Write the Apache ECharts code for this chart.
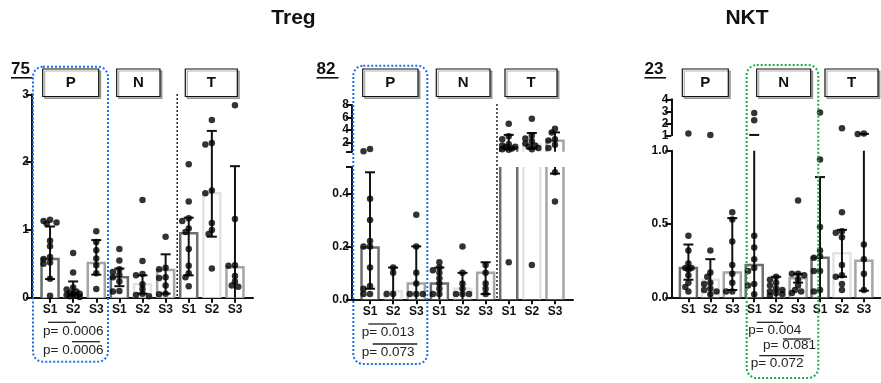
<!DOCTYPE html>
<html>
<head>
<meta charset="utf-8">
<script src="https://cdn.jsdelivr.net/npm/echarts@6/dist/echarts.min.js"></script>
<style>
html,body{margin:0;padding:0;background:#fff;}
#main{width:881px;height:383px;}
</style>
</head>
<body>
<div id="main"></div>
<script>
// categories (S1..S3 inside P / N / T)
const cats = ['S1', 'S2', 'S3', 'S1', 'S2', 'S3', 'S1', 'S2', 'S3'];
const groups = ['P', 'N', 'T'];

// panel 1 : Treg 75
const p1Mean = [0.57, 0.06, 0.51, 0.30, 0.20, 0.41, 0.95, 1.54, 0.45];
const p1Hi = [1.05, 0.24, 0.85, 0.43, 0.33, 0.64, 1.18, 2.46, 1.94];
const p1Lo = [0.275, -0.1, 0.34, 0.17, 0.06, 0.06, 0.33, 0.9, -0.5];
const p1Dots = [
  [1.15, 1.13, 1.11, 1.09, 0.84, 0.76, 0.60, 0.57, 0.52, 0.50, 0.28, 0.03],
  [0.66, 0.37, 0.15, 0.12, 0.09, 0.07, 0.06, 0.05, 0.04, 0.03, 0.02, 0.01],
  [0.98, 0.82, 0.70, 0.58, 0.48, 0.36, 0.13],
  [0.72, 0.55, 0.42, 0.38, 0.34, 0.30, 0.24, 0.10, 0.09],
  [1.44, 0.54, 0.35, 0.33, 0.20, 0.13, 0.06, 0.04, 0.02],
  [0.90, 0.44, 0.42, 0.30, 0.29, 0.18, 0.06, 0.05],
  [1.97, 1.42, 1.17, 1.13, 1.02, 0.97, 0.72, 0.47, 0.36, 0.30, 0.17],
  [2.62, 2.28, 2.26, 1.58, 1.54, 1.10, 1.00, 0.94, 0.43],
  [2.84, 1.16, 0.48, 0.47, 0.32, 0.24, 0.18, 0.16]
];

// panel 2 : Treg 82
const p2Mean = [0.196, 0.03, 0.06, 0.06, 0.04, 0.10, 1.1, 1.7, 2.25];
const p2Hi = [0.48, 0.12, 0.20, 0.12, 0.10, 0.14, 3.2, 3.5, 3.6];
const p2Lo = [0.04, -0.1, -0.1, -0.05, -0.05, 0.02, 0.9, 1.0, 0.475];
const p2Dots = [
  [0.94, 0.57, 0.38, 0.30, 0.22, 0.20, 0.20, 0.12, 0.05, 0.04, 0.02, 0.02],
  [0.12, 0.10, 0.02, 0.02],
  [0.32, 0.20, 0.10, 0.06, 0.02, 0.02, 0.02],
  [0.14, 0.12, 0.11, 0.10, 0.08, 0.06, 0.04, 0.02, 0.02],
  [0.20, 0.10, 0.06, 0.04, 0.02, 0.02, 0.02],
  [0.13, 0.10, 0.06, 0.04, 0.02],
  [5.0, 3.0, 2.5, 1.7, 1.5, 1.3, 1.2, 1.0, 0.9, 0.8, 0.14],
  [5.8, 3.1, 2.6, 2.2, 1.8, 1.5, 1.3, 1.1, 0.9, 0.13],
  [4.2, 3.6, 2.5, 2.3, 1.6, 1.1, 0.48, 0.37]
];

// panel 3 : NKT 23
const p3Mean = [0.20, 0.12, 0.17, 0.22, 0.05, 0.13, 0.27, 0.30, 0.25];
const p3Hi = [0.36, 0.26, 0.54, 1.03, 0.14, 0.16, 0.82, 0.46, 1.12];
const p3Lo = [0.12, -0.02, 0.05, -0.2, -0.02, 0.10, -0.2, 0.14, 0.045];
const p3Dots = [
  [1.15, 0.42, 0.32, 0.23, 0.20, 0.20, 0.19, 0.15, 0.10, 0.07, 0.04],
  [1.03, 0.32, 0.17, 0.14, 0.10, 0.09, 0.06, 0.05, 0.04, 0.02],
  [0.58, 0.53, 0.38, 0.22, 0.16, 0.10, 0.04, 0.04],
  [2.85, 2.25, 0.42, 0.34, 0.26, 0.20, 0.18, 0.09, 0.08, 0.02],
  [0.14, 0.12, 0.10, 0.08, 0.06, 0.05, 0.04, 0.03, 0.02, 0.01],
  [0.66, 0.16, 0.16, 0.15, 0.12, 0.08, 0.05, 0.04, 0.03],
  [2.9, 0.94, 0.48, 0.32, 0.28, 0.27, 0.18, 0.18, 0.05, 0.04],
  [1.58, 0.58, 0.45, 0.44, 0.41, 0.22, 0.15, 0.14, 0.09, 0.05],
  [1.15, 1.1, 0.36, 0.26, 0.16, 0.05]
];

// y tick values / labels
const p1Ticks = [0, 1, 2, 3];
const p2LowTicks = [0, 0.2, 0.4, 0.5], p2LowLabels = [0, 0.2, 0.4];
const p2UpTicks = [0.5, 2, 4, 6, 8], p2UpLabels = [2, 4, 6, 8];
const p3LowTicks = [0, 0.5, 1], p3UpTicks = [1, 2, 3, 4];

const pValues = [
  ['p= 0.0006', 'p= 0.0006'],
  ['p= 0.013', 'p= 0.073'],
  ['p= 0.004', 'p= 0.081', 'p= 0.072']
];

const FONT = 'Liberation Sans';
const shade = ['#6e6e6e', '#e3e3e3', '#a5a5a5'];
const GW = 221, XMIN = 0.22, XMAX = 9.78, DOT = 6.5;

const panels = [
  { left: 32, mean: p1Mean, hi: p1Hi, lo: p1Lo, dots: p1Dots,
    grids: [{ top: 94.3, height: 203.4, min: 0, max: 3, ticks: p1Ticks, labels: p1Ticks, fmt: v => String(v) }] },
  { left: 352, mean: p2Mean, hi: p2Hi, lo: p2Lo, dots: p2Dots,
    grids: [{ top: 167, height: 132.3, min: 0, max: 0.5, ticks: p2LowTicks, labels: p2LowLabels, fmt: v => v.toFixed(1) },
            { top: 105, height: 46.7, min: 0.5, max: 8, ticks: p2UpTicks, labels: p2UpLabels, fmt: v => String(v) }] },
  { left: 671.3, mean: p3Mean, hi: p3Hi, lo: p3Lo, dots: p3Dots,
    grids: [{ top: 150.7, height: 146.6, min: 0, max: 1, ticks: p3LowTicks, labels: p3LowTicks, fmt: v => v.toFixed(1) },
            { top: 99.3, height: 36, min: 1, max: 4, ticks: p3UpTicks, labels: p3UpTicks, fmt: v => String(v) }] }
];

// small beeswarm: horizontal offsets (px), dots may overlap a bit like in the original
function swarm(vals, pxPerUnit) {
  const placed = [];
  const s = DOT * 0.5;
  const cands = [0, -s, s, -2 * s, 2 * s];
  return vals.map(v => {
    const y = v * pxPerUnit;
    let best = 0, bestD = -1;
    for (const c of cands) {
      const d = placed.reduce((m, p) => Math.min(m, Math.hypot(p[0] - c, p[1] - y)), 1e9);
      if (d >= DOT * 0.7) { best = c; bestD = d; break; }
      if (d > bestD) { bestD = d; best = c; }
    }
    placed.push([best, y]);
    return best;
  });
}

const grid = [], xAxis = [], yAxis = [], series = [];
const step = GW / (XMAX - XMIN);

panels.forEach(pn => {
  pn.grids.forEach((g, gi) => {
    const idx = grid.length;
    const lower = gi === 0;
    const inGrid = v => lower ? v <= g.max : v > g.min;
    grid.push({ left: pn.left, top: g.top, width: GW, height: g.height });
    xAxis.push({
      type: 'value', gridIndex: idx, min: XMIN, max: XMAX, show: lower,
      splitLine: { show: false },
      axisLine: { lineStyle: { color: '#111', width: 2 } },
      axisTick: { customValues: [1, 2, 3, 4, 5, 6, 7, 8, 9], length: 5, lineStyle: { color: '#111', width: 2 } },
      axisLabel: { customValues: [1, 2, 3, 4, 5, 6, 7, 8, 9], formatter: v => cats[Math.round(v) - 1],
        color: '#111', fontFamily: FONT, fontWeight: 'bold', fontSize: 12, margin: 6 }
    });
    yAxis.push({
      type: 'value', gridIndex: idx, min: g.min, max: g.max,
      splitLine: { show: false },
      axisLine: { show: true, lineStyle: { color: '#111', width: 2 } },
      axisTick: { show: true, customValues: g.ticks, length: 6, lineStyle: { color: '#111', width: 2 } },
      axisLabel: { customValues: g.labels, formatter: g.fmt, color: '#111', fontFamily: FONT,
        fontWeight: 'bold', fontSize: 12, margin: 3 }
    });
    const pxPerUnit = g.height / (g.max - g.min);

    // open bars: white body, grey sides, top edge only when it lies inside this grid
    series.push({
      type: 'custom', xAxisIndex: idx, yAxisIndex: idx, z: 2,
      data: pn.mean.map((m, i) => [i + 1, m]),
      encode: { x: 0, y: 1 },
      renderItem: (params, api) => {
        const x = api.value(0), m = api.value(1);
        if (m <= g.min) return null;
        const top = Math.min(m, g.max);
        const pB = api.coord([x, g.min]), pT = api.coord([x, top]);
        const hw = 8.5;
        const col = shade[params.dataIndex % 3];
        const ch = [{ type: 'rect', shape: { x: pB[0] - hw, y: pT[1], width: hw * 2, height: pB[1] - pT[1] },
          style: { fill: '#fff' } }];
        if (m <= g.max) {
          ch.push({ type: 'polyline', style: { stroke: col, lineWidth: 2.5, fill: null },
            shape: { points: [[pB[0] - hw, pB[1]], [pB[0] - hw, pT[1]], [pB[0] + hw, pT[1]], [pB[0] + hw, pB[1]]] } });
        } else {
          ch.push({ type: 'line', shape: { x1: pB[0] - hw, y1: pB[1], x2: pB[0] - hw, y2: pT[1] }, style: { stroke: col, lineWidth: 2.5 } });
          ch.push({ type: 'line', shape: { x1: pB[0] + hw, y1: pB[1], x2: pB[0] + hw, y2: pT[1] }, style: { stroke: col, lineWidth: 2.5 } });
        }
        return { type: 'group', children: ch };
      }
    });
    // error bars
    series.push({
      type: 'custom', xAxisIndex: idx, yAxisIndex: idx, z: 3,
      data: pn.mean.map((m, i) => [i + 1, pn.lo[i], pn.hi[i]]),
      encode: { x: 0, y: [1, 2] },
      renderItem: (params, api) => {
        const x = api.value(0), lo = api.value(1), hi = api.value(2);
        const a = Math.max(lo, g.min), b = Math.min(hi, g.max);
        if (a >= b) return null;
        const p1 = api.coord([x, a]), p2 = api.coord([x, b]);
        const st = { stroke: '#111', lineWidth: 2 };
        const ch = [{ type: 'line', shape: { x1: p1[0], y1: p1[1], x2: p2[0], y2: p2[1] }, style: st }];
        if (lo >= g.min && lo <= g.max) ch.push({ type: 'line', shape: { x1: p1[0] - 5, y1: p1[1], x2: p1[0] + 5, y2: p1[1] }, style: st });
        if (hi >= g.min && hi <= g.max) ch.push({ type: 'line', shape: { x1: p2[0] - 5, y1: p2[1], x2: p2[0] + 5, y2: p2[1] }, style: st });
        return { type: 'group', children: ch };
      }
    });
    const pts = [];
    pn.dots.forEach((arr, i) => {
      const vals = arr.filter(inGrid);
      const offs = swarm(vals.map(v => v - g.min), pxPerUnit);
      vals.forEach((v, k) => pts.push([i + 1 + offs[k] / step, v]));
    });
    series.push({
      type: 'scatter', xAxisIndex: idx, yAxisIndex: idx, z: 4, symbolSize: DOT,
      itemStyle: { color: '#000' }, data: pts
    });
  });
});

// decorations
const graphic = [];
function text(t, x, y, size, weight, align, color) {
  graphic.push({ type: 'text', x: x, y: y, z: 10,
    style: { text: t, fontFamily: FONT, fontSize: size, fontWeight: weight, fill: color || '#111',
      align: align || 'left', verticalAlign: 'middle' } });
}
function line(x1, y1, x2, y2, color, w, dash) {
  graphic.push({ type: 'line', z: 9, shape: { x1, y1, x2, y2 },
    style: { stroke: color, lineWidth: w, lineDash: dash || null } });
}
text('Treg', 293.5, 18, 21, 'bold', 'center');
text('NKT', 747, 18, 21, 'bold', 'center');
[['75', 11, 32.5], ['82', 316.5, 338.5], ['23', 644.5, 666]].forEach(n => {
  text(n[0], n[1], 69, 17, 'bold', 'left');
  line(n[1], 77.8, n[2], 77.8, '#111', 1.6);
});
const boxes = [
  [[42.7, 98.7], [116.7, 160], [185.3, 237.3]],
  [[362.7, 418], [436.3, 490], [505, 557]],
  [[682.3, 728.3], [756.7, 810.7], [825, 878]]
];
boxes.forEach(bs => bs.forEach((b, i) => {
  graphic.push({ type: 'rect', z: 8, shape: { x: b[0], y: 69, width: b[1] - b[0], height: 27.5 },
    style: { fill: '#fff', stroke: '#111', lineWidth: 1.2, shadowColor: 'rgba(0,0,0,0.3)', shadowOffsetX: 2, shadowOffsetY: 2 } });
  text(groups[i], (b[0] + b[1]) / 2, 83, 15, 'bold', 'center');
}));
// dotted frames
[[33, 66.7, 108, 361.7, '#1d6ff0'], [353.3, 65.7, 427.3, 364, '#1d6ff0'], [746.7, 65, 818.3, 378, '#1ea84e']].forEach(f => {
  graphic.push({ type: 'rect', z: 11, shape: { x: f[0], y: f[1], width: f[2] - f[0], height: f[3] - f[1], r: 10 },
    style: { fill: null, stroke: f[4], lineWidth: 2, lineDash: [2, 2] } });
});
// separators between N and T
line(177.2, 94, 177.2, 297, '#222', 1.5, [2, 2]);
line(497, 104, 497, 299, '#222', 1.5, [2, 2]);
// p-values with overlines
const pPos = [
  [[43, 331.7, 48, 76, 322.3], [43, 350, 72, 100, 341.7]],
  [[361.7, 332.7, 368.3, 396.7, 324], [361.7, 352.7, 372.7, 417.3, 344]],
  [[748.3, 330, 756.7, 783.3, 322.3], [763, 345, 783, 810.7, 339], [750.7, 363.3, 759.3, 804, 355.7]]
];
pPos.forEach((ps, pi) => ps.forEach((p, k) => {
  text(pValues[pi][k], p[0], p[1], 13.5, 'normal', 'left', '#222');
  line(p[2], p[4], p[3], p[4], '#222', 1.3);
}));

const chart = echarts.init(document.getElementById('main'), null, { renderer: 'canvas' });
chart.setOption({
  animation: false,
  backgroundColor: '#fff',
  grid, xAxis, yAxis, series, graphic
});
</script>
</body>
</html>
